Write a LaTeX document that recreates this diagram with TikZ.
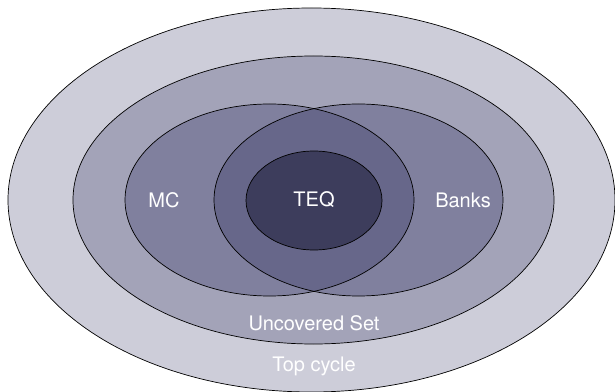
\documentclass[tikz,border=0pt]{standalone}
\usepackage{fontspec}
\setmainfont{TeX Gyre Heros}
\usepackage{tikz}
\usetikzlibrary{positioning}

\definecolor{topfill}{RGB}{205,205,217}
\definecolor{uncfill}{RGB}{163,163,184}
\definecolor{setfill}{RGB}{128,128,158}
\definecolor{bothfill}{RGB}{103,103,138}
\definecolor{teqfill}{RGB}{61,61,92}

\tikzset{
  setline/.style={draw=black, line width=0.7pt},
  setlabel/.style={text=white, font=\fontsize{20}{24}\selectfont, inner sep=0pt}
}

\begin{document}
\begin{tikzpicture}[x=1pt,y=1pt]
\useasboundingbox (0,0) rectangle (615,391);
%    outer sets
      \draw[fill=topfill,
            setline] (311.5,191) ellipse (303.5 and 192);
      \draw[fill=uncfill,
            setline] (313.5,191) ellipse (240.5 and 144);
%    MC and Banks
      \fill[setfill] (269.5,191) ellipse (144.5 and 96);
      \fill[setfill] (358.5,191) ellipse (144.5 and 96);
      \begin{scope}
        \clip (269.5,191) ellipse (144.5 and 96);
        \fill[bothfill] (358.5,191) ellipse (144.5 and 96);
      \end{scope}
      \draw[setline] (269.5,191) ellipse (144.5 and 96);
      \draw[setline] (358.5,191) ellipse (144.5 and 96);
%    TEQ
      \draw[fill=teqfill,
            setline] (314,190.5) ellipse (68 and 49.5);
%    labels
    \node[setlabel] (teq) at (314,191) {TEQ};
    \node[setlabel] (mc) at (164,191) {MC};
    \node[setlabel] (banks) at (463,191) {Banks};
    \node[setlabel] (uncovered) at (314,68) {Uncovered Set};
    \node[setlabel] (topcycle) at (314,25) {Top cycle};
    \end{tikzpicture}
\end{document}
